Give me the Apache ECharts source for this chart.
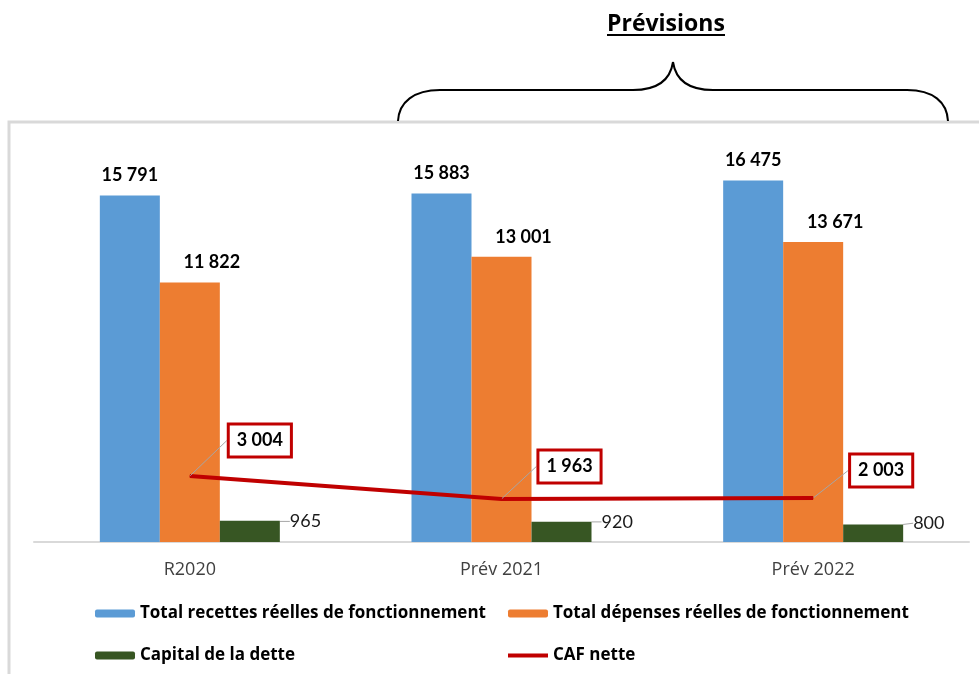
<!DOCTYPE html>
<html>
<head>
<meta charset="utf-8">
<script src="https://cdn.jsdelivr.net/npm/echarts@6/dist/echarts.min.js"></script>
<style>
  html, body { margin: 0; padding: 0; background: #fff; }
  #chart { width: 979px; height: 674px; }
</style>
</head>
<body>
<div id="chart"></div>
<script>
// Categories and values (k€)
const categories = ['R2020', 'Prév 2021', 'Prév 2022'];
const recettes = [15791, 15883, 16475];
const depenses = [11822, 13001, 13671];
const capitalDette = [965, 920, 800];
const cafNette = [3004, 1963, 2003];

const seriesNames = [
  'Total recettes réelles de fonctionnement',
  'Total dépenses réelles de fonctionnement',
  'Capital de la dette',
  'CAF nette'
];

const FONT = 'Lato, "Open Sans", sans-serif';
const WIDE = '"Open Sans", Lato, sans-serif';
const fmt = v => String(v).replace(/\B(?=(\d{3})+(?!\d))/g, ' ');

// Shift of the boxed CAF labels away from their points
const cafLabelShift = [[70, -15], [68, -12], [68, -7]];

const chart = echarts.init(document.getElementById('chart'), null, { renderer: 'canvas' });

const legendBase = {
  padding: 0,
  itemWidth: 40,
  itemHeight: 8,
  itemGap: 0,
  textStyle: { fontFamily: WIDE, fontWeight: 'bold', fontSize: 17, color: '#000' },
  selectedMode: false
};

// Brace over the forecast years, built from curve and straight pieces
const braceStyle = { fill: null, stroke: '#000', lineWidth: 2 };
const brace = [
  { type: 'bezierCurve', shape: { x1: 398, y1: 121, cpx1: 399, cpy1: 102, cpx2: 414, cpy2: 90, x2: 440, y2: 90 } },
  { type: 'line', shape: { x1: 440, y1: 90, x2: 633, y2: 90 } },
  { type: 'bezierCurve', shape: { x1: 633, y1: 90, cpx1: 655, cpy1: 90, cpx2: 670, cpy2: 82, x2: 673, y2: 62 } },
  { type: 'bezierCurve', shape: { x1: 673, y1: 62, cpx1: 676, cpy1: 82, cpx2: 691, cpy2: 90, x2: 713, y2: 90 } },
  { type: 'line', shape: { x1: 713, y1: 90, x2: 907, y2: 90 } },
  { type: 'bezierCurve', shape: { x1: 907, y1: 90, cpx1: 933, cpy1: 90, cpx2: 947, cpy2: 102, x2: 948, y2: 121 } }
].map(g => Object.assign(g, { silent: true, style: braceStyle }));

chart.setOption({
  animation: false,
  backgroundColor: '#fff',
  color: ['#5b9bd5', '#ed7d31', '#375623', '#c00000'],
  grid: { left: 34, right: 10, top: 147, bottom: 132 },
  xAxis: {
    type: 'category',
    data: categories,
    axisLine: { lineStyle: { color: '#d9d9d9', width: 2 } },
    axisTick: { show: false },
    axisLabel: { fontFamily: WIDE, fontSize: 18, color: '#404040', margin: 19 }
  },
  yAxis: { type: 'value', min: 0, max: 18000, show: false },
  legend: [
    Object.assign({}, legendBase, { left: 95, top: 605, data: [seriesNames[0]] }),
    Object.assign({}, legendBase, { left: 508, top: 605, data: [seriesNames[1]] }),
    Object.assign({}, legendBase, { left: 95, top: 647, data: [seriesNames[2]] }),
    Object.assign({}, legendBase, { left: 508, top: 647, itemHeight: 4,
      data: [{ name: seriesNames[3], icon: 'rect' }] })
  ],
  graphic: [
    // chart frame
    { type: 'rect', silent: true, z: -10,
      shape: { x: 9, y: 122, width: 1000, height: 600 },
      style: { fill: null, stroke: '#d9d9d9', lineWidth: 3 } },
    // heading
    { type: 'text', silent: true,
      style: { x: 607, y: 24, text: 'Prévisions', font: 'bold 23px ' + WIDE, fill: '#000',
        verticalAlign: 'middle' } },
    { type: 'line', silent: true,
      shape: { x1: 607, y1: 35, x2: 725, y2: 35 },
      style: { stroke: '#000', lineWidth: 2 } }
  ].concat(brace),
  series: [
    {
      name: seriesNames[0], type: 'bar', data: recettes,
      barWidth: 60, barGap: '0%',
      label: { show: true, position: 'top', distance: 11, formatter: p => fmt(p.value),
        fontFamily: FONT, fontWeight: 'bold', fontSize: 18, color: '#000' }
    },
    {
      name: seriesNames[1], type: 'bar', data: depenses,
      barWidth: 60, barGap: '0%',
      label: { show: true, position: 'top', distance: 11, formatter: p => fmt(p.value),
        fontFamily: FONT, fontWeight: 'bold', fontSize: 18, color: '#000' },
      labelLayout: { dx: 22 }
    },
    {
      name: seriesNames[2], type: 'bar', data: capitalDette,
      barWidth: 60, barGap: '0%',
      label: { show: true, position: 'right', distance: 6, formatter: p => fmt(p.value),
        fontFamily: FONT, fontSize: 18, color: '#1a1a1a' },
      labelLayout: { dx: 4, dy: -10 },
      labelLine: { show: true, lineStyle: { color: '#a6a6a6', width: 1 } }
    },
    {
      name: seriesNames[3], type: 'line', data: cafNette,
      symbol: 'circle', symbolSize: 1, showSymbol: true, z: 5,
      lineStyle: { color: '#c00000', width: 4 },
      itemStyle: { color: '#c00000' },
      label: { show: true, position: 'top', distance: 5, formatter: p => fmt(p.value),
        fontFamily: FONT, fontWeight: 'bold', fontSize: 18, color: '#000',
        backgroundColor: '#fff', borderColor: '#c00000', borderWidth: 3,
        padding: [6, 7, 6, 7] },
      labelLayout: p => ({ dx: cafLabelShift[p.dataIndex][0], dy: cafLabelShift[p.dataIndex][1] }),
      labelLine: { show: true, lineStyle: { color: '#a6a6a6', width: 1 } }
    }
  ]
});
</script>
</body>
</html>
